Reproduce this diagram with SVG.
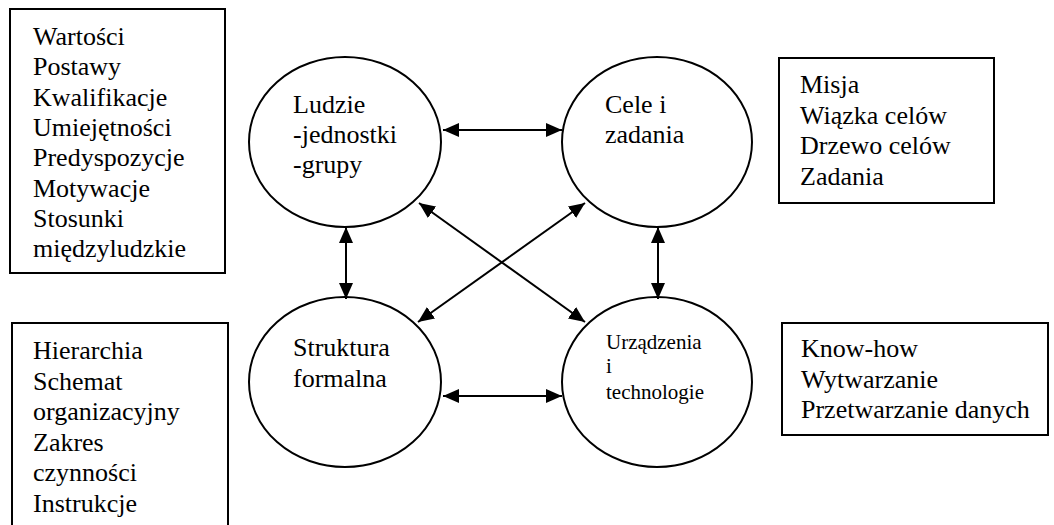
<svg xmlns="http://www.w3.org/2000/svg" width="1054" height="525" viewBox="0 0 1054 525">
  <style>
    .box { fill: #fff; stroke: #000; stroke-width: 2; }
    .ell { fill: #fff; stroke: #000; stroke-width: 2; }
    text { font-family: 'Liberation Serif', 'Times New Roman', 'DejaVu Serif', serif; fill: #000; }
    .t { font-size: 26px; }
    .ts { font-size: 21px; }
    .c { stroke: #000; stroke-width: 2; fill: none; marker-start: url(#ah); marker-end: url(#ah); }
  </style>
  <defs>
    <marker id="ah" viewBox="0 0 16 14" refX="16" refY="7" markerWidth="16" markerHeight="14" markerUnits="userSpaceOnUse" orient="auto-start-reverse">
      <path d="M0,0 L16,7 L0,14 Z" fill="#000"/>
    </marker>
  </defs>
  <rect width="1054" height="525" fill="#fff"/>

  <!-- side description boxes -->
  <g id="box-ludzie">
    <rect class="box" x="10" y="9" width="215" height="264"/>
    <text class="t" x="33" y="45" font-family="Liberation Serif, serif">Wartości</text>
    <text class="t" x="33" y="75.3">Postawy</text>
    <text class="t" x="33" y="105.6">Kwalifikacje</text>
    <text class="t" x="33" y="135.9">Umiejętności</text>
    <text class="t" x="33" y="166.2">Predyspozycje</text>
    <text class="t" x="33" y="196.5">Motywacje</text>
    <text class="t" x="33" y="226.8">Stosunki</text>
    <text class="t" x="33" y="257">międzyludzkie</text>
  </g>

  <g id="box-cele">
    <rect class="box" x="779" y="58" width="215" height="145"/>
    <text class="t" x="800" y="93">Misja</text>
    <text class="t" x="800" y="123.7">Wiązka celów</text>
    <text class="t" x="800" y="154.3">Drzewo celów</text>
    <text class="t" x="800" y="185">Zadania</text>
  </g>

  <g id="box-struktura">
    <rect class="box" x="12" y="323" width="216" height="215"/>
    <text class="t" x="33" y="359">Hierarchia</text>
    <text class="t" x="33" y="389.6">Schemat</text>
    <text class="t" x="33" y="420.2">organizacyjny</text>
    <text class="t" x="33" y="450.8">Zakres</text>
    <text class="t" x="33" y="481.4">czynności</text>
    <text class="t" x="33" y="512">Instrukcje</text>
  </g>

  <g id="box-urzadzenia">
    <rect class="box" x="782" y="323" width="266" height="112"/>
    <text class="t" x="801" y="357">Know-how</text>
    <text class="t" x="801" y="387.5">Wytwarzanie</text>
    <text class="t" x="801" y="418">Przetwarzanie danych</text>
  </g>

  <!-- main elements -->
  <g id="node-ludzie">
    <ellipse class="ell" cx="345" cy="142" rx="96" ry="85"/>
    <text class="t" x="293" y="113">Ludzie</text>
    <text class="t" x="293" y="143">-jednostki</text>
    <text class="t" x="293" y="173">-grupy</text>
  </g>

  <g id="node-cele">
    <ellipse class="ell" cx="657" cy="142" rx="95" ry="85"/>
    <text class="t" x="605" y="113">Cele i</text>
    <text class="t" x="605" y="143">zadania</text>
  </g>

  <g id="node-struktura">
    <ellipse class="ell" cx="345" cy="382" rx="96" ry="85"/>
    <text class="t" x="293" y="356">Struktura</text>
    <text class="t" x="293" y="387">formalna</text>
  </g>

  <g id="node-urzadzenia">
    <ellipse class="ell" cx="657" cy="382" rx="95" ry="85"/>
    <text class="ts" x="606" y="349">Urządzenia</text>
    <text class="ts" x="606" y="373">i</text>
    <text class="ts" x="606" y="399">technologie</text>
  </g>

  <!-- two-way connectors -->
  <g id="connectors">
    <line class="c" x1="443" y1="130" x2="562" y2="130"/>
    <line class="c" x1="443" y1="396" x2="562" y2="396"/>
    <line class="c" x1="346" y1="227" x2="346" y2="299"/>
    <line class="c" x1="658" y1="227" x2="658" y2="299"/>
    <line class="c" x1="419" y1="203" x2="585" y2="322"/>
    <line class="c" x1="585" y1="203" x2="418" y2="322"/>
  </g>
</svg>
